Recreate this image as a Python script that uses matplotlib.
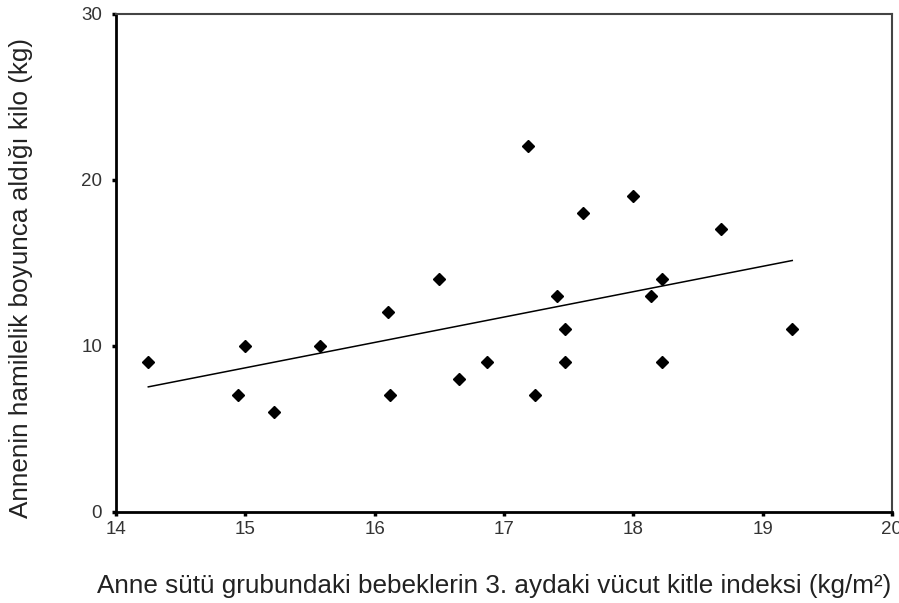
import numpy as np
import matplotlib
matplotlib.use("Agg")
import matplotlib.pyplot as plt

plt.rcParams['font.family'] = ['Liberation Sans', 'DejaVu Sans']

# BMI at 3 months (x) vs weight gained in pregnancy (y)
bmi = [14.25, 14.94, 15.00, 15.22, 15.58, 16.10, 16.12, 16.50, 16.65, 16.87, 17.19,
       17.24, 17.41, 17.47, 17.47, 17.61, 18.00, 18.14, 18.22, 18.22, 18.68, 19.23]
kilo = [9, 7, 10, 6, 10, 12, 7, 14, 8, 9, 22,
        7, 13, 11, 9, 18, 19, 13, 14, 9, 17, 11]

xticks = [14, 15, 16, 17, 18, 19, 20]
yticks = [0, 10, 20, 30]

x = np.array(bmi)
y = np.array(kilo)
slope, icpt = np.polyfit(x, y, 1)
xl = np.array([x.min(), x.max()])

fig = plt.figure(figsize=(8.99, 6.03), dpi=100)
ax = fig.add_axes([0.129, 0.1514, 0.863, 0.826])

ax.plot(xl, icpt + slope * xl, color='black', lw=1.1)
ax.plot(x, y, linestyle='none', marker='D', ms=6.2, color='black')

ax.set_xlim(14, 20)
ax.set_ylim(0, 30)
ax.set_xticks(xticks)
ax.set_yticks(yticks)
ax.tick_params(direction='out', length=3, width=2.5, labelsize=13.5, colors='black', pad=4)
ax.tick_params(axis='y', pad=7)
for lab in ax.get_xticklabels() + ax.get_yticklabels():
    lab.set_color('#333333')

for s in ['left', 'bottom']:
    ax.spines[s].set_linewidth(2)
for s in ['top', 'right']:
    ax.spines[s].set_linewidth(1.5)
    ax.spines[s].set_color('#444444')

ax.set_xlabel('Anne sütü grubundaki bebeklerin 3. aydaki vücut kitle indeksi (kg/m²)',
              fontsize=18.8, color='#222222')
ax.set_ylabel('Annenin hamilelik boyunca aldığı kilo (kg)',
              fontsize=18.8, color='#222222')
ax.xaxis.set_label_coords(0.487, -0.125)
ax.yaxis.set_label_coords(-0.107, 0.47)

fig.savefig('out.png', dpi=100)
